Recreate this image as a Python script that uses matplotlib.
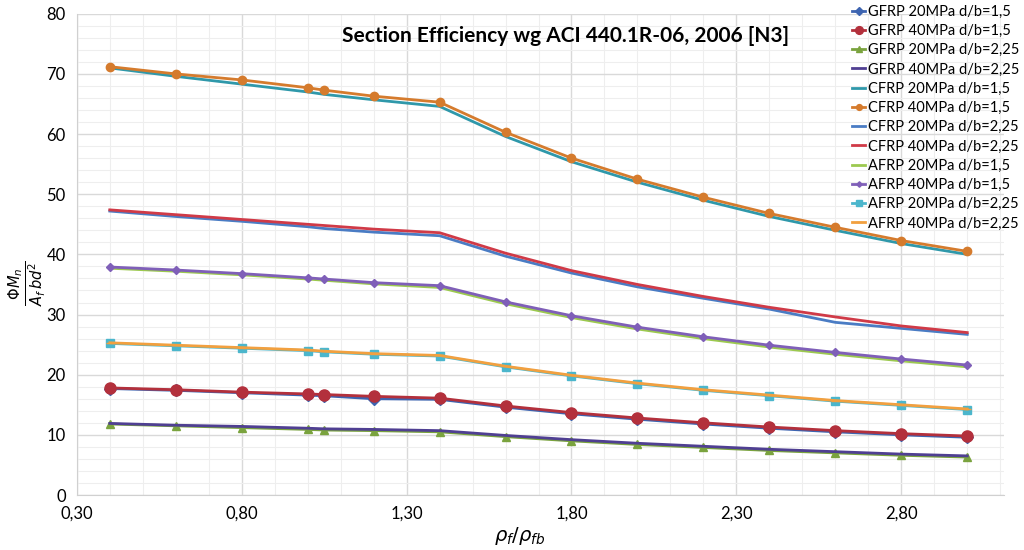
import matplotlib
matplotlib.use("Agg")
import matplotlib.pyplot as plt
import numpy as np
from matplotlib.ticker import FuncFormatter, MultipleLocator

plt.rcParams["font.family"] = ["Lato", "DejaVu Sans"]

# reinforcement ratio rho_f / rho_fb
rho_ratio = [0.4, 0.6, 0.8, 1.0, 1.05, 1.2, 1.4, 1.6, 1.8, 2.0, 2.2, 2.4, 2.6, 2.8, 3.0]

# section efficiency values per series
gfrp_20_15 = [17.7, 17.4, 17.0, 16.6, 16.5, 16.0, 15.9, 14.6, 13.5, 12.6, 11.8, 11.1, 10.5, 10.0, 9.6]
gfrp_40_15 = [17.8, 17.5, 17.1, 16.8, 16.7, 16.4, 16.1, 14.8, 13.7, 12.8, 12.0, 11.3, 10.7, 10.2, 9.8]
gfrp_20_225 = [11.8, 11.5, 11.2, 10.9, 10.8, 10.7, 10.5, 9.7, 9.0, 8.4, 7.9, 7.4, 7.0, 6.6, 6.3]
gfrp_40_225 = [11.9, 11.6, 11.4, 11.1, 11.0, 10.9, 10.7, 9.9, 9.2, 8.6, 8.1, 7.6, 7.2, 6.8, 6.5]
cfrp_20_15 = [71.0, 69.6, 68.3, 67.0, 66.6, 65.7, 64.6, 59.6, 55.4, 52.0, 49.0, 46.3, 44.0, 41.8, 40.0]
cfrp_40_15 = [71.2, 70.0, 69.0, 67.7, 67.3, 66.3, 65.3, 60.3, 56.0, 52.5, 49.5, 46.8, 44.5, 42.3, 40.5]
cfrp_20_225 = [47.2, 46.3, 45.5, 44.6, 44.3, 43.7, 43.1, 39.7, 36.9, 34.6, 32.7, 30.9, 28.7, 27.7, 26.7]
cfrp_40_225 = [47.4, 46.6, 45.8, 45.0, 44.8, 44.2, 43.6, 40.2, 37.3, 35.0, 33.0, 31.2, 29.6, 28.1, 27.0]
afrp_20_15 = [37.7, 37.2, 36.6, 35.9, 35.7, 35.1, 34.5, 31.8, 29.5, 27.6, 26.0, 24.6, 23.4, 22.3, 21.3]
afrp_40_15 = [37.9, 37.4, 36.8, 36.1, 35.9, 35.3, 34.8, 32.1, 29.8, 27.9, 26.3, 24.9, 23.7, 22.6, 21.6]
afrp_20_225 = [25.2, 24.8, 24.4, 24.0, 23.8, 23.4, 23.1, 21.3, 19.8, 18.5, 17.4, 16.5, 15.6, 14.9, 14.2]
afrp_40_225 = [25.3, 24.9, 24.5, 24.1, 23.9, 23.5, 23.2, 21.4, 19.9, 18.6, 17.5, 16.6, 15.7, 15.0, 14.3]

x_ticks = [0.3, 0.8, 1.3, 1.8, 2.3, 2.8]

series = [
    ("GFRP 20MPa d/b=1,5", gfrp_20_15, "#3d64b0", "D", 6),
    ("GFRP 40MPa d/b=1,5", gfrp_40_15, "#b3303c", "o", 8),
    ("GFRP 20MPa d/b=2,25", gfrp_20_225, "#7aa33e", "^", 6),
    ("GFRP 40MPa d/b=2,25", gfrp_40_225, "#4f3f92", None, 0),
    ("CFRP 20MPa d/b=1,5", cfrp_20_15, "#2f98aa", None, 0),
    ("CFRP 40MPa d/b=1,5", cfrp_40_15, "#d57b2d", "o", 6),
    ("CFRP 20MPa d/b=2,25", cfrp_20_225, "#4a7cc4", None, 0),
    ("CFRP 40MPa d/b=2,25", cfrp_40_225, "#d03a47", None, 0),
    ("AFRP 20MPa d/b=1,5", afrp_20_15, "#9cc94f", None, 0),
    ("AFRP 40MPa d/b=1,5", afrp_40_15, "#7f5fb8", "D", 4),
    ("AFRP 20MPa d/b=2,25", afrp_20_225, "#4bb6cc", "s", 6),
    ("AFRP 40MPa d/b=2,25", afrp_40_225, "#f2a03f", "_", 6),
]

fig = plt.figure(figsize=(10.24, 5.5), dpi=100)
ax = fig.add_axes([0.075, 0.1, 0.905, 0.875])

for label, values, color, marker, msize in series:
    ax.plot(rho_ratio, values, color=color, lw=2, marker=marker, ms=msize, label=label)

ax.set_xlim(0.3, 3.11)
ax.set_ylim(0, 80)
ax.set_xticks(x_ticks)
ax.xaxis.set_minor_locator(MultipleLocator(0.1))
ax.yaxis.set_major_locator(MultipleLocator(10))
ax.yaxis.set_minor_locator(MultipleLocator(2))
ax.xaxis.set_major_formatter(FuncFormatter(lambda v, p: f"{v:.2f}".replace(".", ",")))
ax.grid(which="major", color="#d9d9d9", lw=1)
ax.grid(which="minor", color="#eeeeee", lw=0.8)
ax.set_axisbelow(True)
ax.tick_params(which="both", length=0, labelsize=12, pad=8)
for side in ["top", "right"]:
    ax.spines[side].set_visible(False)
for side in ["left", "bottom"]:
    ax.spines[side].set_color("#d0d0d0")

ax.set_title("Section Efficiency wg ACI 440.1R-06, 2006 [N3]", fontsize=15, fontweight="bold", x=0.527, y=0.925)
ax.set_xlabel(r"$\rho_f/\rho_{fb}$", fontsize=14, labelpad=2, x=0.478)
ax.set_ylabel(r"$\frac{\Phi M_n}{A_f\,b d^2}$", fontsize=15)
ax.yaxis.set_label_coords(-0.03, 0.44)

fig.legend(loc="upper right", bbox_to_anchor=(1.005, 1.01), frameon=False, fontsize=10.5,
           handlelength=0.9, handletextpad=0.15, labelspacing=0.36, borderpad=0.2, markerscale=0.7)

fig.savefig("out.png", dpi=100)
